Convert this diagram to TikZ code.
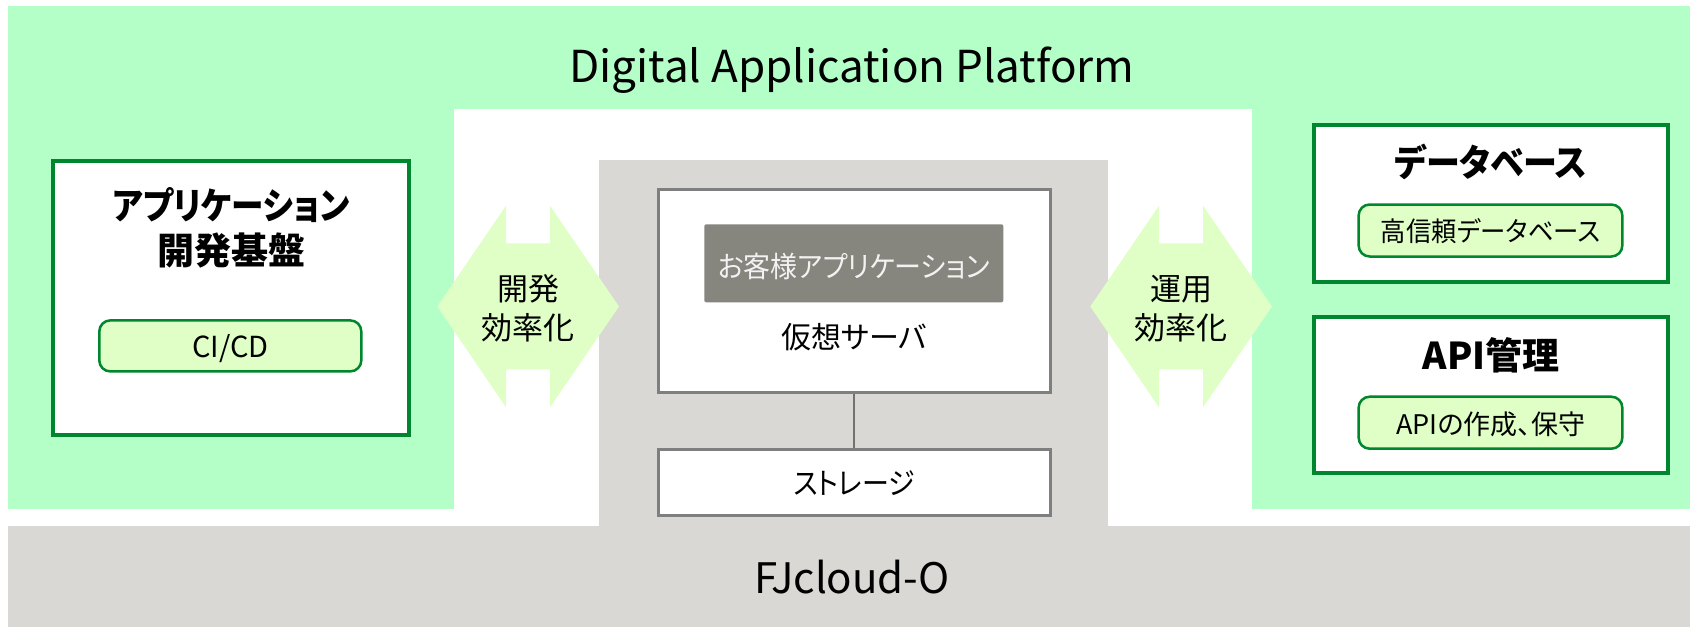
\documentclass[tikz,border=0pt]{standalone}
\usepackage{fontspec}
\usepackage{graphicx}
\setmainfont{Noto Sans CJK JP}[RawFeature={+palt}]
\definecolor{bggreen}{HTML}{B3FFC7}
\definecolor{dkgreen}{HTML}{00862E}
\definecolor{ltgreen}{HTML}{DFFFC6}
\definecolor{bggray}{HTML}{D9D8D4}
\definecolor{bordergray}{HTML}{7F7F7F}
\definecolor{appgray}{HTML}{86857E}
\definecolor{apptext}{HTML}{F2F2F2}
\newcommand{\narrow}[2]{\scalebox{#1}[1]{#2}}
\begin{document}
\begin{tikzpicture}[x=1pt,y=-1pt,
  greenbox/.style={rectangle, fill=white, draw=dkgreen, line width=4pt, inner sep=0},
  pill/.style={rectangle, rounded corners=11pt, fill=ltgreen, draw=dkgreen, line width=2.5pt, inner sep=0},
  graybox/.style={rectangle, fill=white, draw=bordergray, line width=3pt, inner sep=0},
  dblarrow/.style={fill=ltgreen, draw=none},
  lbl/.style={anchor=base, inner sep=0, font=\fontsize{#1}{#1}\selectfont},
  blbl/.style={anchor=base, inner sep=0, font=\fontsize{#1}{#1}\selectfont\bfseries},
]
\useasboundingbox (0,0) rectangle (1690,627);
% background areas
\fill[bggreen] (8,6) rectangle (1690,509);
\fill[white] (454,109) rectangle (1252,526);
\fill[bggray] (8,526) rectangle (1690,627);
\fill[bggray] (599,160) rectangle (1108,527);

% titles of areas
\node[lbl=44] (dap) at (852,82) {Digital Application Platform};
\node[lbl=42] (fjc) at (852,593) {FJcloud-O};

% left: application development platform
\node[greenbox, minimum width=355.6pt, minimum height=274.3pt] (appbox) at (230.8,297.9) {};
\node[blbl=37] (apptitle1) at (231,219) {\narrow{0.88}{アプリケーション}};
\node[blbl=37] (apptitle2) at (231,264) {開発基盤};
\node[pill, minimum width=262pt, minimum height=51pt] (cicd) at (230.3,345.9) {};
\node[lbl=29] (cicdlbl) at (230.3,357.5) {CI/CD};

% double arrows
\fill[dblarrow] (437.3,306.5) -- (506,205.7) -- (506,243.3) -- (550,243.3) -- (550,205.7)
  -- (619,306.5) -- (550,407.3) -- (550,369.3) -- (506,369.3) -- (506,407.3) -- cycle;
\node[lbl=31] (dev1) at (528,300) {開発};
\node[lbl=31] (dev2) at (528,339) {効率化};

\fill[dblarrow] (1090.3,306.5) -- (1159,205.7) -- (1159,243.3) -- (1203,243.3) -- (1203,205.7)
  -- (1272,306.5) -- (1203,407.3) -- (1203,369.3) -- (1159,369.3) -- (1159,407.3) -- cycle;
\node[lbl=31] (ops1) at (1181,300) {運用};
\node[lbl=31] (ops2) at (1181,339) {効率化};

% center: virtual server and storage
\node[graybox, minimum width=392pt, minimum height=203pt, anchor=north] (server) at (854.2,188) {};
\node[rectangle, rounded corners=2pt, fill=appgray, inner sep=0, minimum width=299pt, minimum height=78pt] (custapp) at (853.8,263.3) {};
\node[lbl=29, text=apptext] (custlbl) at (853.8,277) {\narrow{0.93}{お客様アプリケーション}};
\node[lbl=30] (serverlbl) at (854,348.5) {仮想サーバ};
\node[graybox, minimum width=392pt, minimum height=66pt] (storage) at (854.2,482.3) {};
\node[lbl=30] (storagelbl) at (854,494) {\narrow{0.9}{ストレージ}};
\draw[bordergray!90!black, line width=1.5pt] (server.south) -- (storage.north);

% right: database and API management
\node[greenbox, minimum width=354.8pt, minimum height=157pt] (dbbox) at (1491,203.8) {};
\node[blbl=37] (dbtitle) at (1491,176.5) {\narrow{0.92}{データベース}};
\node[pill, minimum width=263.7pt, minimum height=52pt] (dbpill) at (1490.5,230.5) {};
\node[lbl=27] (dblbl) at (1490.5,241.5) {\narrow{0.94}{高信頼データベース}};

\node[greenbox, minimum width=354.8pt, minimum height=156.3pt] (apibox) at (1491,395.2) {};
\node[blbl=37] (apititle) at (1491,369) {API管理};
\node[pill, minimum width=263.7pt, minimum height=52pt] (apipill) at (1490.5,422.7) {};
\node[lbl=27] (apilbl) at (1490.5,434.5) {APIの作成、保守};
\end{tikzpicture}
\end{document}
